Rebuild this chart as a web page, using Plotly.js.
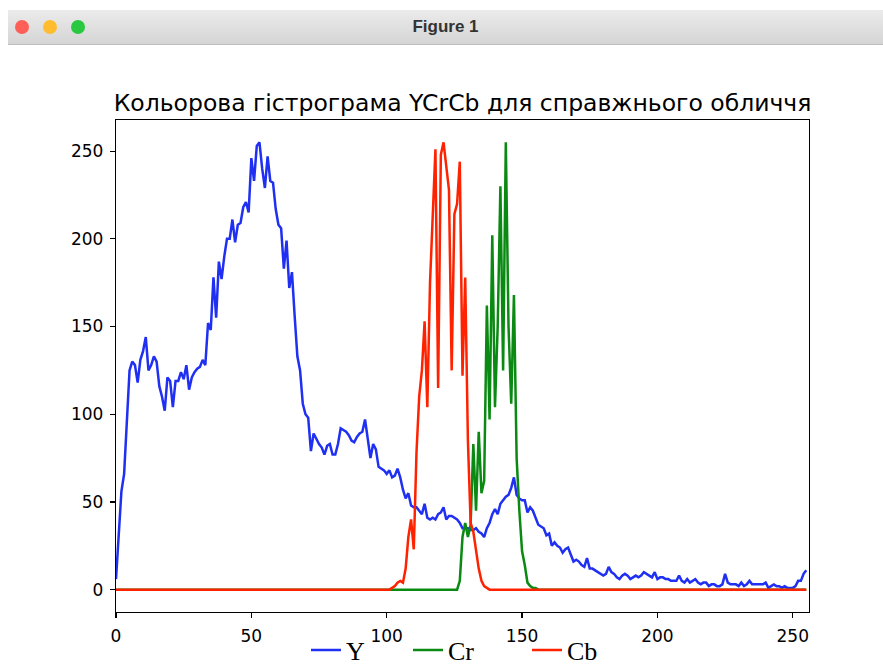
<!DOCTYPE html>
<html>
<head>
<meta charset="utf-8">
<script src="https://cdn.plot.ly/plotly-3.0.1.min.js"></script>
<style>
  html, body { margin: 0; padding: 0; background: #ffffff; }
  #wrap { position: relative; width: 883px; height: 672px; overflow: hidden; }
  #chart { position: absolute; left: 0; top: 0; width: 883px; height: 672px; }
  #titlebar { position: absolute; left: 8px; top: 10px; width: 875px; height: 34px;
    background: linear-gradient(#ebebeb, #d5d5d5); border-bottom: 1px solid #bdbdbd; }
  .dot { position: absolute; top: 10px; width: 14px; height: 14px; border-radius: 50%; }
  #wtitle { position: absolute; left: 0; top: 0; width: 875px; height: 34px; line-height: 34px;
    text-align: center; font-family: "Liberation Sans", "DejaVu Sans", sans-serif; font-weight: bold;
    font-size: 17px; color: #333333; }
</style>
</head>
<body>
<div id="wrap">
  <div id="chart"></div>
  <div id="titlebar">
    <div class="dot" style="left:7px;background:#fe5f57;"></div>
    <div class="dot" style="left:35px;background:#febc2e;"></div>
    <div class="dot" style="left:63px;background:#28c840;"></div>
    <div id="wtitle">Figure 1</div>
  </div>
</div>
<script>
// Histogram bin counts, bins 0..255 (bin index is the trace's default x).
const Y_counts = [
  6,30,56,66,100,125,130,128,118,131,136,144,125,128,133,130,
  116,110,102,121,119,104,119,119,124,120,128,114,121,124,126,127,
  131,128,152,148,178,155,187,177,190,200,200,211,198,208,209,218,
  221,215,246,233,253,255,240,229,247,233,232,217,208,206,183,199,
  172,181,156,133,125,106,100,98,79,89,86,83,81,77,82,83,
  77,77,83,92,91,90,88,85,84,87,89,90,97,86,75,83,
  80,70,69,68,66,68,64,65,69,64,57,52,55,48,47,47,
  45,43,49,41,40,41,40,43,44,47,40,42,42,41,40,38,
  35,35,35,34,34,35,33,32,30,35,38,43,46,43,49,51,
  53,54,58,64,54,52,51,51,44,47,45,41,37,36,35,31,
  32,25,27,25,24,21,23,24,20,16,17,16,14,13,18,12,
  12,11,10,9,8,9,13,10,9,7,6,8,9,8,6,7,
  8,7,8,10,9,8,7,10,6,7,7,6,6,5,5,5,
  8,5,4,6,4,5,6,4,3,4,4,2,3,3,2,2,
  3,9,4,3,3,3,2,4,2,3,5,3,3,3,3,3,
  4,1,2,3,2,2,1,2,1,1,1,2,5,5,9,11
];

const Cr_counts = [
  0,0,0,0,0,0,0,0,0,0,0,0,0,0,0,0,0,0,0,0,
  0,0,0,0,0,0,0,0,0,0,0,0,0,0,0,0,0,0,0,0,
  0,0,0,0,0,0,0,0,0,0,0,0,0,0,0,0,0,0,0,0,
  0,0,0,0,0,0,0,0,0,0,0,0,0,0,0,0,0,0,0,0,
  0,0,0,0,0,0,0,0,0,0,0,0,0,0,0,0,0,0,0,0,
  0,0,0,0,0,0,0,0,0,0,0,0,0,0,0,0,0,0,0,0,
  0,0,0,0,0,0,0,
  5,30,38,30,37,83,45,90,55,62,162,97,202,104,150,230,125,255,150,106,
  168,75,45,22,14,4,2,1,1,
  0,0,0,0,0,0,0,0,0,0,0,0,0,0,0,0,0,0,0,0,
  0,0,0,0,0,0,0,0,0,0,0,0,0,0,0,0,0,0,0,0,
  0,0,0,0,0,0,0,0,0,0,0,0,0,0,0,0,0,0,0,0,
  0,0,0,0,0,0,0,0,0,0,0,0,0,0,0,0,0,0,0,0,
  0,0,0,0,0,0,0,0,0,0,0,0,0,0,0,0,0,0,0,0
];

const Cb_counts = [
  0,0,0,0,0,0,0,0,0,0,0,0,0,0,0,0,0,0,0,0,
  0,0,0,0,0,0,0,0,0,0,0,0,0,0,0,0,0,0,0,0,
  0,0,0,0,0,0,0,0,0,0,0,0,0,0,0,0,0,0,0,0,
  0,0,0,0,0,0,0,0,0,0,0,0,0,0,0,0,0,0,0,0,
  0,0,0,0,0,0,0,0,0,0,0,0,0,0,0,0,0,0,0,0,
  0,0,
  1,2,4,5,4,12,30,40,23,78,110,125,153,104,175,210,251,115,248,255,
  242,228,125,214,220,244,122,178,85,38,33,22,12,5,2,1,
  0,0,0,0,0,0,0,0,0,0,0,0,0,0,0,0,0,0,0,0,
  0,0,0,0,0,0,0,0,0,0,0,0,0,0,0,0,0,0,0,0,
  0,0,0,0,0,0,0,0,0,0,0,0,0,0,0,0,0,0,0,0,
  0,0,0,0,0,0,0,0,0,0,0,0,0,0,0,0,0,0,0,0,
  0,0,0,0,0,0,0,0,0,0,0,0,0,0,0,0,0,0,0,0,
  0,0,0,0,0,0,0,0,0,0,0,0,0,0,0,0,0,0
];

const seriesNames = ["Y", "Cr", "Cb"];
const xTicks = [0, 50, 100, 150, 200, 250];
const yTicks = [0, 50, 100, 150, 200, 250];
const chartTitle = "Кольорова гістрограма YCrCb для справжнього обличчя";

if (Y_counts.length !== 256 || Cr_counts.length !== 256 || Cb_counts.length !== 256) {
  throw new Error("length mismatch " + Y_counts.length + " " + Cr_counts.length + " " + Cb_counts.length);
}

const colors = ["#1f30f2", "#0a8a12", "#ff2200"];
const legendWidths = [57, 74, 40];
const data = [Y_counts, Cr_counts, Cb_counts].map((arr, k) => ({
  type: "scatter",
  mode: "lines",
  y: arr,
  name: seriesNames[k],
  legendwidth: legendWidths[k],
  line: { color: colors[k], width: 2.5 },
  hoverinfo: "skip"
}));

const axisFont = { family: "DejaVu Sans", size: 17, color: "#000000" };
const layout = {
  width: 883, height: 672,
  margin: { l: 116, r: 74, t: 120, b: 60, pad: 0, autoexpand: false },
  paper_bgcolor: "#ffffff", plot_bgcolor: "#ffffff",
  title: {
    text: chartTitle,
    font: { family: "DejaVu Sans", size: 23.5, color: "#000000" },
    xref: "paper", x: 0.5, xanchor: "center",
    yref: "container", y: 1 - 103 / 672, yanchor: "middle"
  },
  xaxis: {
    range: [0, 256], tickmode: "array", tickvals: xTicks,
    ticks: "outside", ticklen: 5, tickwidth: 1.2, tickcolor: "#000",
    ticklabelstandoff: 3,
    showline: true, mirror: true, linecolor: "#000", linewidth: 1.2,
    showgrid: false, zeroline: false, tickfont: axisFont
  },
  yaxis: {
    range: [-12.75, 267.75], tickmode: "array", tickvals: yTicks,
    ticks: "outside", ticklen: 5, tickwidth: 1.2, tickcolor: "#000",
    ticklabelstandoff: 3,
    showline: true, mirror: true, linecolor: "#000", linewidth: 1.2,
    showgrid: false, zeroline: false, tickfont: axisFont
  },
  showlegend: true,
  legend: {
    orientation: "h",
    x: (306 - 116) / 693, xanchor: "left",
    y: -38 / 492, yanchor: "middle",
    font: { family: "Liberation Serif", size: 26, color: "#000000" },
    bgcolor: "rgba(0,0,0,0)"
  }
};

Plotly.newPlot("chart", data, layout, { staticPlot: true, displayModeBar: false });
</script>
</body>
</html>
